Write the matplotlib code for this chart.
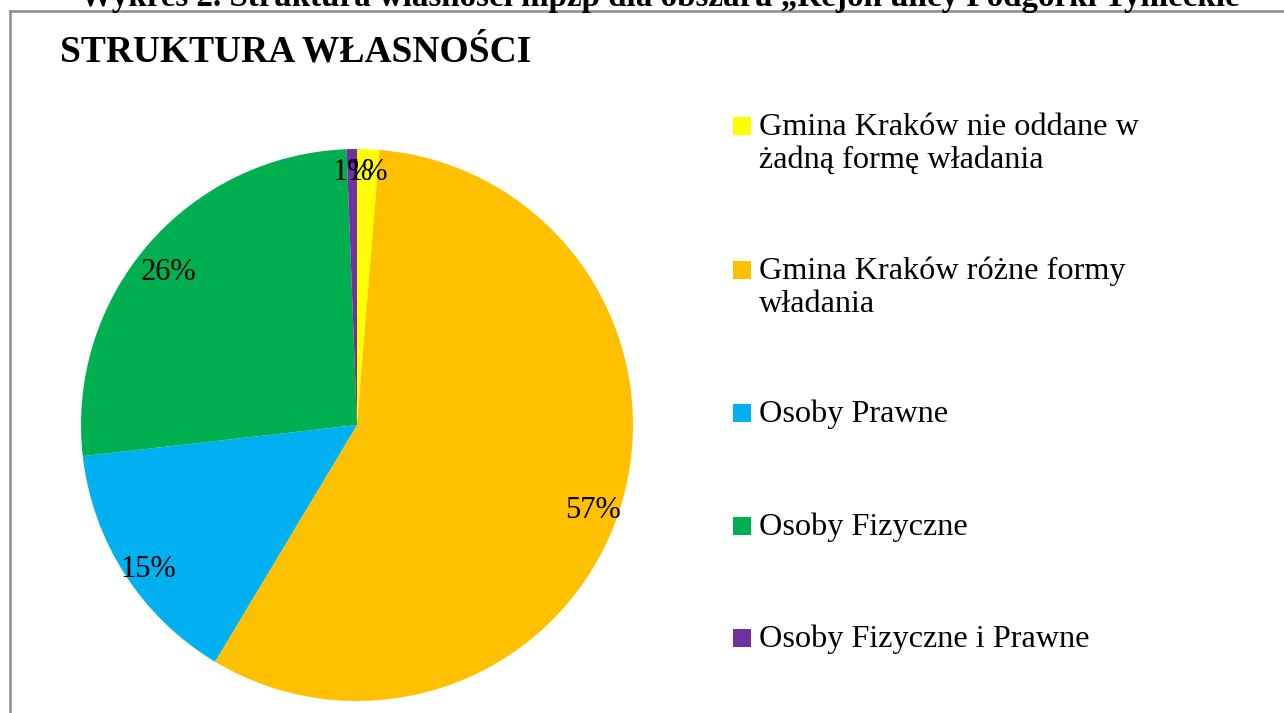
import matplotlib
matplotlib.use("Agg")
import matplotlib.pyplot as plt
from matplotlib.patches import Rectangle
from matplotlib.lines import Line2D

plt.rcParams['font.family'] = ['Liberation Serif', 'DejaVu Serif']

categories = [
    "Gmina Kraków nie oddane w\nżadną formę władania",
    "Gmina Kraków różne formy\nwładania",
    "Osoby Prawne",
    "Osoby Fizyczne",
    "Osoby Fizyczne i Prawne",
]
values = [1.3, 57.3, 14.6, 26.2, 0.6]
colors = ["#FFFF00", "#FFC000", "#00B0F0", "#00B050", "#7030A0"]

chart_title = "STRUKTURA WŁASNOŚCI"
doc_caption = "Wykres 2. Struktura własności mpzp dla obszaru „Rejon ulicy Podgórki Tynieckie"

W, H = 1284, 713
fig = plt.figure(figsize=(W / 100, H / 100), dpi=100)
fig.patch.set_facecolor("white")

def fx(px):
    return px / W

def fy(py):
    return 1 - py / H

# caption cut off at top
fig.text(fx(660), fy(6), doc_caption, ha="center", va="baseline",
         fontsize=23.8, fontweight="bold")

# chart frame
fig.add_artist(Line2D([fx(10), fx(1284)], [fy(11), fy(11)], color="#8c8c8c", lw=1.8))
fig.add_artist(Line2D([fx(10), fx(10)], [fy(11), fy(713)], color="#8c8c8c", lw=1.8))

fig.text(fx(60), fy(62), chart_title, ha="left", va="baseline",
         fontsize=27, fontweight="bold")

cx, cy, r = 357, 425, 276
ax = fig.add_axes([fx(cx - r), fy(cy + r), (2 * r) / W, (2 * r) / H])
wedges, texts, autotexts = ax.pie(
    values, colors=colors, startangle=90, counterclock=False,
    autopct="%.0f%%", pctdistance=0.9, radius=1,
    wedgeprops=dict(linewidth=0),
    textprops=dict(fontsize=22, color="black"))
for t, v in zip(autotexts, values):
    x, y = t.get_position()
    t.set_position((x, y + (0.015 if v < 5 else -0.035)))
ax.set_xlim(-1, 1)
ax.set_ylim(-1, 1)
ax.set_aspect("equal")
ax.axis("off")

# legend
entry_y = [126, 270, 413, 526, 638]
for lab, col, y in zip(categories, colors, entry_y):
    fig.add_artist(Rectangle((fx(733), fy(y + 9)), 18 / W, 18 / H,
                             facecolor=col, edgecolor="none", transform=fig.transFigure))
    for i, ln in enumerate(lab.split("\n")):
        fig.text(fx(759), fy(y + 9 + i * 32.5), ln, ha="left", va="baseline",
                 fontsize=23.2)

fig.savefig("out.png", dpi=100, facecolor="white")
